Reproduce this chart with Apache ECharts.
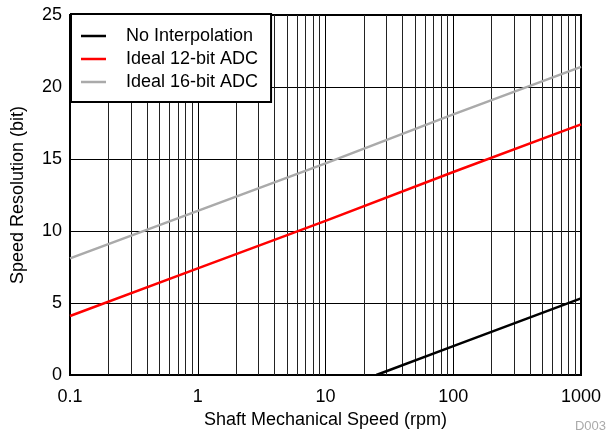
<!DOCTYPE html>
<html>
<head>
<meta charset="utf-8">
<script src="https://cdn.jsdelivr.net/npm/echarts@6/dist/echarts.min.js"></script>
<style>
  html, body { margin: 0; padding: 0; background: #fff; }
  #main { width: 608px; height: 435px; }
</style>
</head>
<body>
<div id="main"></div>
<script>
// data
var speedNoInterp = [25, 100, 1000];
var resNoInterp = [0, 2.0, 5.32];
var speedIdeal = [0.1, 1, 10, 100, 1000];
var res12bit = [4.1, 7.4, 10.7, 14.1, 17.4];
var res16bit = [8.1, 11.4, 14.7, 18.1, 21.4];
var yTicks = [0, 5, 10, 15, 20, 25];

// minor vertical grid lines (2..9 each decade)
var minorLines = [];
[0.1, 1, 10, 100].forEach(function (d) {
  for (var k = 2; k <= 9; k++) minorLines.push(+(d * k).toPrecision(3));
});

function pairs(xs, ys) {
  return xs.map(function (x, i) { return [x, ys[i]]; });
}

var chart = echarts.init(document.getElementById('main'));
var font = 'Liberation Sans, Arial, sans-serif';
var lineIcon = 'path://M0,0 L10,0 L10,1 L0,1 Z';

var option = {
  animation: false,
  grid: {
    left: 70, right: 27, top: 15, bottom: 60,
    show: true, borderColor: '#000', borderWidth: 2, backgroundColor: '#fff'
  },
  legend: {
    left: 71, top: 14,
    z: 50,
    orient: 'vertical',
    backgroundColor: '#fff',
    borderColor: '#000', borderWidth: 2,
    padding: [13, 13, 11, 10],
    icon: lineIcon,
    itemWidth: 35, itemHeight: 2.5, itemGap: 5,
    textStyle: { fontFamily: font, fontSize: 18, color: '#000', padding: [0, 0, 0, 10] },
    data: ['No Interpolation', 'Ideal 12-bit ADC', 'Ideal 16-bit ADC']
  },
  xAxis: {
    type: 'log',
    logBase: 10,
    min: 0.1, max: 1000,
    name: 'Shaft Mechanical Speed (rpm)',
    nameLocation: 'middle',
    nameGap: 29,
    nameTextStyle: { fontFamily: font, fontSize: 18, color: '#000' },
    axisLine: { show: true, lineStyle: { color: '#000', width: 2 } },
    axisTick: { show: false },
    axisLabel: {
      fontFamily: font, fontSize: 18, color: '#000', margin: 13,
      formatter: function (v) { return String(+v.toPrecision(3)); }
    },
    splitLine: { show: true, lineStyle: { color: '#000', width: 1 } }
  },
  yAxis: {
    type: 'value',
    min: yTicks[0], max: yTicks[yTicks.length - 1], interval: 5,
    name: 'Speed Resolution (bit)',
    nameLocation: 'middle',
    nameGap: 43,
    nameTextStyle: { fontFamily: font, fontSize: 18, color: '#000' },
    axisLine: { show: true, lineStyle: { color: '#000', width: 2 } },
    axisTick: { show: false },
    axisLabel: { fontFamily: font, fontSize: 18, color: '#000', margin: 8 },
    splitLine: { show: true, lineStyle: { color: '#000', width: 1 } }
  },
  series: [
    {
      name: 'minor', type: 'line', data: [], silent: true,
      markLine: {
        silent: true, symbol: 'none', label: { show: false },
        lineStyle: { color: '#222', width: 1, type: 'solid' },
        data: minorLines.map(function (v) { return { xAxis: v }; })
      }
    },
    {
      name: 'No Interpolation', type: 'line', showSymbol: false, symbol: 'none',
      color: '#000', lineStyle: { color: '#000', width: 2.5 },
      data: pairs(speedNoInterp, resNoInterp), z: 5
    },
    {
      name: 'Ideal 12-bit ADC', type: 'line', showSymbol: false, symbol: 'none',
      color: '#ff0000', lineStyle: { color: '#ff0000', width: 2.5 },
      data: pairs(speedIdeal, res12bit), z: 5
    },
    {
      name: 'Ideal 16-bit ADC', type: 'line', showSymbol: false, symbol: 'none',
      color: '#aaaaaa', lineStyle: { color: '#aaaaaa', width: 2.5 },
      data: pairs(speedIdeal, res16bit), z: 5
    }
  ],
  graphic: [{
    type: 'text', right: 2, bottom: 2,
    style: { text: 'D003', fontFamily: font, fontSize: 13, fill: '#aaa' }
  }]
};
chart.setOption(option);
</script>
</body>
</html>
